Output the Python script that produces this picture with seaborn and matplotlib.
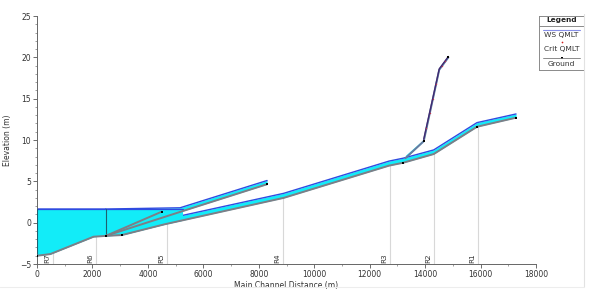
import numpy as np
import pandas as pd
import matplotlib
matplotlib.use("Agg")
import matplotlib.pyplot as plt
from matplotlib.ticker import MultipleLocator
from matplotlib.lines import Line2D
import seaborn as sns

# ---------------- data ----------------
# main reach (R7 ... R1)
main_x = [0, 480, 2040, 2480, 3060, 4600, 8900, 12700, 13210, 14310, 15870, 17280]
main_ground = [-4.0, -3.8, -1.7, -1.6, -1.5, -0.2, 3.0, 6.9, 7.25, 8.3, 11.6, 12.7]
main_ws = [1.65, 1.65, 1.65, 1.65, -1.0, 0.4, 3.55, 7.45, 7.8, 8.8, 12.1, 13.15]

# upper tributary reach (junction -> 8300)
up_x = [2480, 5160, 8300]
up_ground = [-1.6, 1.3, 4.65]
up_ws = [1.65, 1.8, 5.1]

# short branch (junction -> 4500)
sb_x = [2480, 4500]
sb_ground = [-1.6, 1.33]

# steep reach
st_x = [13290, 13950, 14510, 14840]
st_ground = [7.8, 9.85, 18.5, 20.0]
st_ws = [8.15, 10.1, 18.6, 20.1]
crit_x = [14050, 14170, 14290, 14400, 14600, 14720]
crit_y = [11.5, 13.3, 15.0, 16.8, 19.0, 19.6]

# pool (junction water surface)
pool_level = 1.65
pool_end = 5250
junction_x = 2480

# reach station labels
rs_labels = ["R7", "R6", "R5", "R4", "R3", "R2", "R1"]
rs_x = [570, 2120, 4680, 8860, 12740, 14310, 15890]

# end markers of the reaches
mk_x = [0, 2480, 3060, 4500, 8300, 13210, 13950, 14840, 15870, 17280]
mk_y = [-4.0, -1.6, -1.5, 1.33, 4.65, 7.25, 9.85, 20.0, 11.6, 12.7]

# ---------------- style ----------------
sns.set_theme(style="white")
plt.rcParams['font.family'] = ['DejaVu Sans']

CYAN = "#12ECF8"
WS_BLUE = "#2F4BE0"
GROUND = "#7E7E86"

fig = plt.figure(figsize=(5.89, 2.92), dpi=100)
ax = fig.add_axes([37/589, 1-264/292, (536-37)/589, (264-16)/292])

# reach station vertical lines + labels (behind the water)
g_at = np.interp(rs_x, main_x, main_ground)
for lbl, x, g in zip(rs_labels, rs_x, g_at):
    ax.plot([x, x], [-5, g], color="#D8D8D8", lw=0.8, zorder=1)
    ax.text(x - 90, -4.85, lbl, rotation=90, ha="right", va="bottom",
            fontsize=5.2, color="#333333", zorder=1.5)

# main band
ax.fill_between(main_x, main_ground, main_ws, color=CYAN, lw=0, zorder=2)
sns.lineplot(x=main_x, y=main_ws, ax=ax, color=WS_BLUE, lw=1.0, sort=False,
             estimator=None, zorder=2.2)
# upper reach band
ax.fill_between(up_x, up_ground, up_ws, color=CYAN, lw=0, zorder=2)
sns.lineplot(x=up_x, y=up_ws, ax=ax, color=WS_BLUE, lw=1.0, sort=False,
             estimator=None, zorder=2.2)
# steep reach band
ax.fill_between(st_x, st_ground, st_ws, color=CYAN, lw=0, zorder=2)

# pool
px = np.linspace(0, pool_end, 400)
pg = np.interp(px, main_x, main_ground)
ax.fill_between(px, pg, pool_level, where=pg < pool_level, color=CYAN, lw=0, zorder=3)
ax.plot([0, pool_end], [pool_level, pool_level], color=WS_BLUE, lw=0.9, zorder=3.2)
ax.plot([junction_x, junction_x], [np.interp(junction_x, main_x, main_ground), pool_level],
        color="#1F5F6F", lw=0.8, zorder=3.2)
ax.plot([0, 0], [main_ground[0], pool_level], color="#1F5F6F", lw=0.8, zorder=3.2)

# ground lines
for gx, gy in [(main_x, main_ground), (up_x, up_ground), (sb_x, sb_ground)]:
    sns.lineplot(x=gx, y=gy, ax=ax, color=GROUND, lw=1.4, sort=False,
                 estimator=None, zorder=4)
sns.lineplot(x=st_x, y=st_ground, ax=ax, color="#6A7AA0", lw=1.4, sort=False,
             estimator=None, zorder=4)
sns.lineplot(x=st_x[1:], y=st_ws[1:], ax=ax, color="#3E2A72", lw=1.0, sort=False,
             estimator=None, zorder=4.2)
ax.scatter(crit_x, crit_y, s=1.0, color="#C03050", zorder=4.5, lw=0)
ax.scatter(mk_x, mk_y, s=4, marker="s", color="black", zorder=5, lw=0)

# axes
ax.set_xlim(0, 18000)
ax.set_ylim(-5, 25)
ax.xaxis.set_major_locator(MultipleLocator(2000))
ax.xaxis.set_minor_locator(MultipleLocator(1000))
ax.yaxis.set_major_locator(MultipleLocator(5))
ax.yaxis.set_minor_locator(MultipleLocator(1))
ax.tick_params(which="major", direction="out", length=3, width=0.6,
               labelsize=5.5, labelcolor="#333333", color="#555555",
               bottom=True, left=True, pad=1.2)
ax.tick_params(which="minor", direction="out", length=1.5, width=0.5,
               color="#777777", bottom=True, left=True)
for s in ["top", "right"]:
    ax.spines[s].set_visible(False)
for s in ["left", "bottom"]:
    ax.spines[s].set_color("#666666")
    ax.spines[s].set_linewidth(0.7)
ax.set_xlabel("Main Channel Distance (m)", fontsize=5.5, color="#333333", labelpad=1.5)
ax.set_ylabel("Elevation (m)", fontsize=5.5, color="#333333", labelpad=6)
ax.set_facecolor("white")

# legend box
lax = fig.add_axes([539/589, 1-70/292, 45/589, 54/292])
lax.set_xlim(0, 1)
lax.set_ylim(54, 0)
lax.set_xticks([]); lax.set_yticks([])
for s in lax.spines.values():
    s.set_color("#8A8A8A"); s.set_linewidth(0.7)
lax.text(0.5, 4.3, "Legend", ha="center", va="center", fontsize=5.3, fontweight="bold", color="#222222")
lax.plot([0, 1], [9.7, 9.7], color="#8A8A8A", lw=0.7)
lax.plot([0.08, 0.92], [14.3, 14.3], color="#8890E8", lw=0.8)
lax.text(0.5, 19, "WS QMLT", ha="center", va="center", fontsize=5.4, color="#333333")
lax.scatter([0.5], [25.5], s=1.5, color="#D02020", lw=0)
lax.text(0.5, 33.5, "Crit QMLT", ha="center", va="center", fontsize=5.4, color="#333333")
lax.plot([0.08, 0.92], [42, 42], color="#777777", lw=0.6)
lax.scatter([0.5], [42], s=3, marker="s", color="black", lw=0)
lax.text(0.5, 47.5, "Ground", ha="center", va="center", fontsize=5.4, color="#333333")

# faint figure frame on right and bottom
fig.add_artist(Line2D([584/589, 584/589], [1-287/292, 1-14/292], color="#E2E2E2", lw=0.8))
fig.add_artist(Line2D([0, 584/589], [1-287/292, 1-287/292], color="#EDEDED", lw=0.8))

fig.savefig("out.png", dpi=100)
